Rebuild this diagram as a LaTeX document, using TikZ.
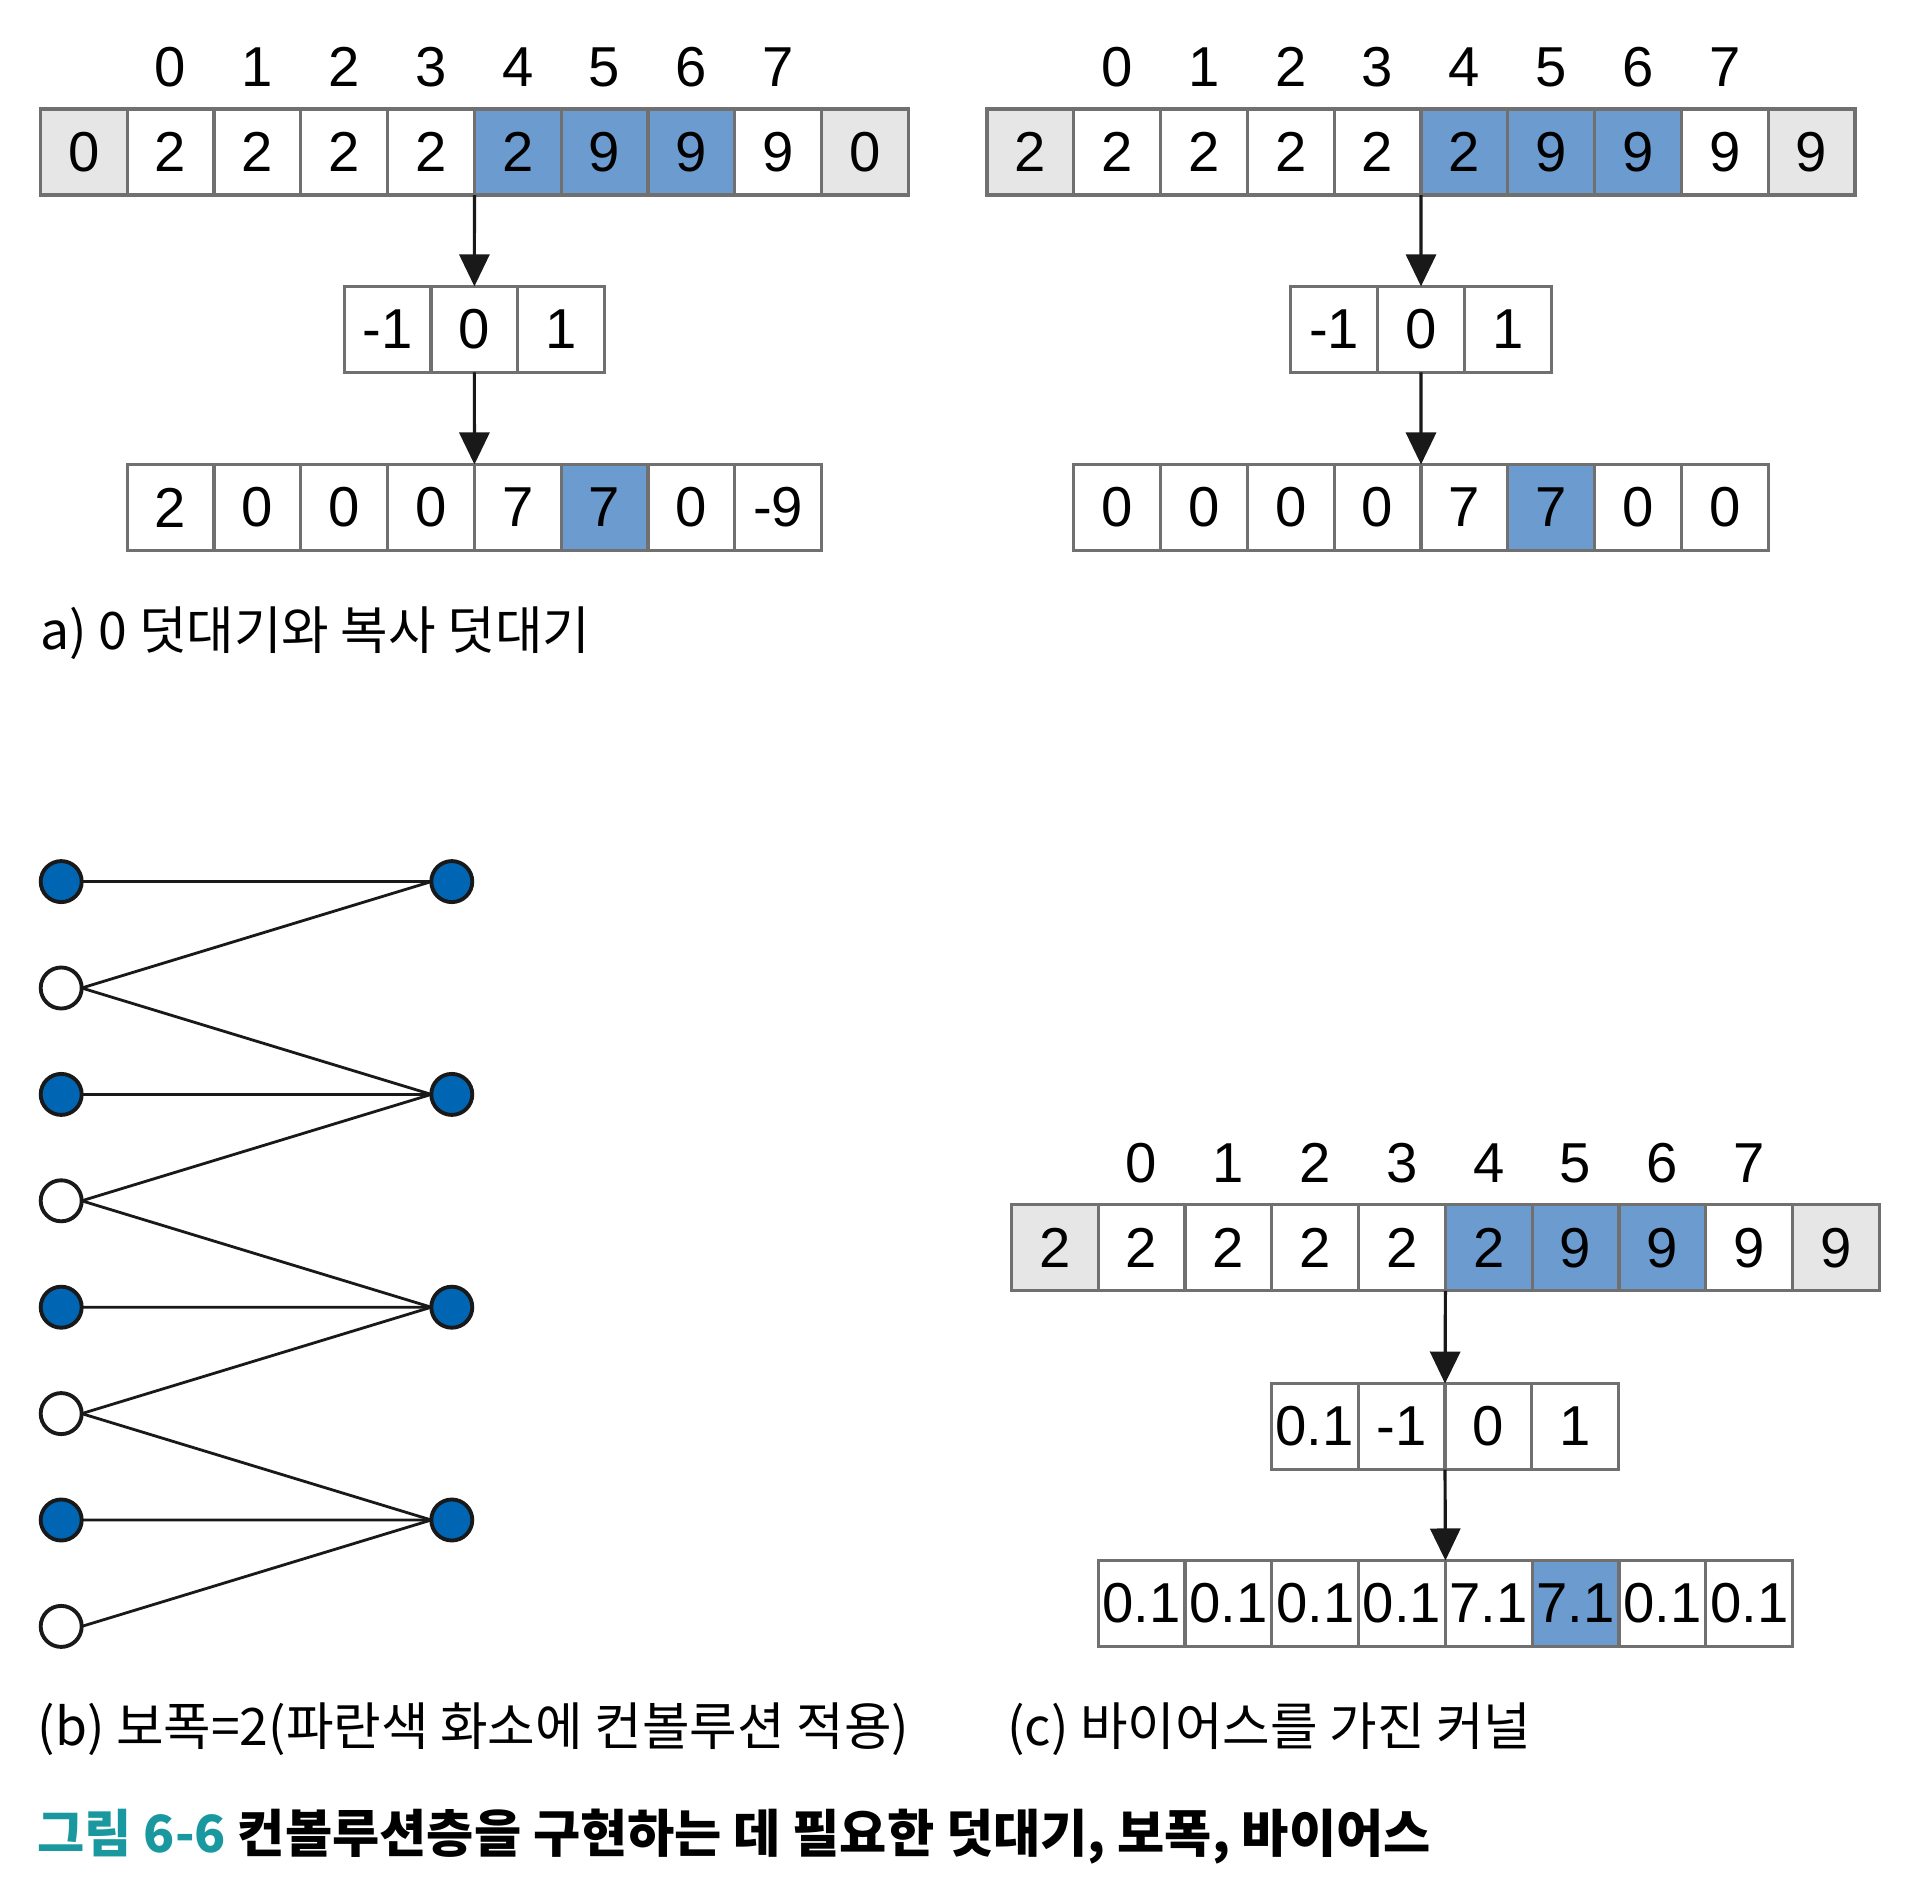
\documentclass[tikz,border=0pt]{standalone}
\usepackage{fontspec}
\setmainfont{Liberation Sans}
\newfontfamily\krfont{Noto Sans CJK KR}
\usetikzlibrary{arrows.meta,positioning}
\definecolor{CellBlue}{HTML}{6B9BCF}
\definecolor{PadGray}{HTML}{E6E6E6}
\definecolor{EdgeGray}{HTML}{707070}
\definecolor{DotBlue}{HTML}{0066B3}
\definecolor{CapTeal}{HTML}{1A98A0}

\begin{document}
\begin{tikzpicture}[
    x=0.01cm, y=-0.01cm,
    font=\fontsize{16}{18}\selectfont,
    cell/.style={draw=EdgeGray, line width=0.9pt, minimum width=0.868cm, minimum height=0.86cm, inner sep=0pt, outer sep=0pt},
    idx/.style={inner sep=0pt},
    arrow/.style={-{Triangle[width=0.3cm, length=0.32cm]}, line width=0.9pt, black!90},
    dot/.style={circle, draw=black!90, line width=1.1pt, minimum size=0.41cm, inner sep=0pt, outer sep=0pt},
    link/.style={line width=0.8pt, black!90},
    caption/.style={anchor=west, inner sep=0pt, font=\krfont\fontsize{14.7}{16}\selectfont}
  ]
    \useasboundingbox (0,0) rectangle (1920,1888);

    % (a) zero padding
    \foreach \i in {0,...,7} \node[idx] (ixA\i) at ({170.6+86.8*\i},67) {\i};
    \foreach \f/\v [count=\i from 0] in {PadGray/0,white/2,white/2,white/2,white/2,CellBlue/2,CellBlue/9,CellBlue/9,white/9,PadGray/0}
      \node[cell, fill=\f] (inA\i) at ({83.8+86.8*\i},152) {\v};
    \foreach \v [count=\i from 0] in {-1,0,1}
      \node[cell, fill=white] (kerA\i) at ({387.6+86.8*\i},329.4) {\v};
    \foreach \f/\v [count=\i from 0] in {white/2,white/0,white/0,white/0,white/7,CellBlue/7,white/0,white/-9}
      \node[cell, fill=\f] (outA\i) at ({170.6+86.8*\i},507.5) {\v};
    \draw[arrow] (inA4.south east) -- (kerA1.north);
    \draw[arrow] (kerA1.south) -- (outA3.north east);

    % (a) copy padding
    \foreach \i in {0,...,7} \node[idx] (ixB\i) at ({1117.2+86.8*\i},67) {\i};
    \foreach \f/\v [count=\i from 0] in {PadGray/2,white/2,white/2,white/2,white/2,CellBlue/2,CellBlue/9,CellBlue/9,white/9,PadGray/9}
      \node[cell, fill=\f] (inB\i) at ({1030.4+86.8*\i},152) {\v};
    \foreach \v [count=\i from 0] in {-1,0,1}
      \node[cell, fill=white] (kerB\i) at ({1334.2+86.8*\i},329.4) {\v};
    \foreach \f/\v [count=\i from 0] in {white/0,white/0,white/0,white/0,white/7,CellBlue/7,white/0,white/0}
      \node[cell, fill=\f] (outB\i) at ({1117.2+86.8*\i},507.5) {\v};
    \draw[arrow] (inB4.south east) -- (kerB1.north);
    \draw[arrow] (kerB1.south) -- (outB3.north east);

    \node[caption] (capA) at (40,633) {a) 0 덧대기와 복사 덧대기};

    % (b) stride 2
    \foreach \f [count=\j from 0] in {DotBlue,white,DotBlue,white,DotBlue,white,DotBlue,white}
      \node[dot, fill=\f] (lb\j) at (61.2,{881.6+106.4*\j}) {};
    \foreach \m in {0,...,3}
      \node[dot, fill=DotBlue] (rb\m) at (451.8,{881.6+212.8*\m}) {};
    \foreach \m/\a/\b in {0/0/1,1/2/3,2/4/5,3/6/7} {
      \draw[link] (lb\a.east) -- (rb\m.west);
      \draw[link] (lb\b.east) -- (rb\m.west);
    }
    \foreach \m/\a in {1/1,2/3,3/5}
      \draw[link] (lb\a.east) -- (rb\m.west);

    \node[caption] (capB) at (37,1729) {(b) 보폭=2(파란색 화소에 컨볼루션 적용)};

    % (c) kernel with bias
    \foreach \i in {0,...,7} \node[idx] (ixC\i) at ({1141.6+86.8*\i},1163) {\i};
    \foreach \f/\v [count=\i from 0] in {PadGray/2,white/2,white/2,white/2,white/2,CellBlue/2,CellBlue/9,CellBlue/9,white/9,PadGray/9}
      \node[cell, fill=\f] (inC\i) at ({1054.8+86.8*\i},1247.8) {\v};
    \foreach \v [count=\i from 0] in {0.1,-1,0,1}
      \node[cell, fill=white] (kerC\i) at ({1314.8+86.8*\i},1426.6) {\v};
    \foreach \f/\v [count=\i from 0] in {white/0.1,white/0.1,white/0.1,white/0.1,white/7.1,CellBlue/7.1,white/0.1,white/0.1}
      \node[cell, fill=\f] (outC\i) at ({1141.6+86.8*\i},1603.5) {\v};
    \draw[arrow] (inC4.south east) -- (kerC1.north east);
    \draw[arrow] (kerC1.south east) -- (outC3.north east);

    \node[caption] (capC) at (1006.6,1729) {(c) 바이어스를 가진 커널};

    \node[caption, font=\krfont\bfseries\fontsize{14.6}{16}\selectfont] (fig) at (37,1837)
      {\textcolor{CapTeal}{그림 6-6} 컨볼루션층을 구현하는 데 필요한 덧대기, 보폭, 바이어스};
  \end{tikzpicture}
\end{document}
